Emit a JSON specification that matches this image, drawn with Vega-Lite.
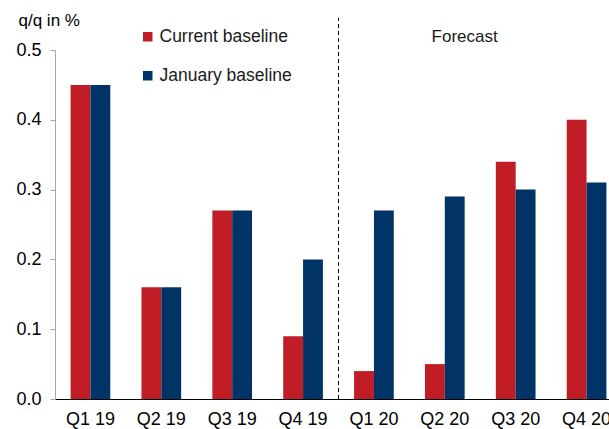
{
  "$schema": "https://vega.github.io/schema/vega-lite/v6.json",
  "autosize": {"type": "none"},
  "padding": {"left": 55, "top": 50, "right": 0, "bottom": 30},
  "width": 567,
  "height": 349,
  "background": "white",
  "config": {
    "font": "Liberation Sans",
    "view": {"stroke": null},
    "axis": {"titleFontWeight": "normal"}
  },
  "layer": [
    {
      "data": {
        "values": [
          {"q": "Q1 19", "series": "Current baseline", "v": 0.45},
          {"q": "Q1 19", "series": "January baseline", "v": 0.45},
          {"q": "Q2 19", "series": "Current baseline", "v": 0.16},
          {"q": "Q2 19", "series": "January baseline", "v": 0.16},
          {"q": "Q3 19", "series": "Current baseline", "v": 0.27},
          {"q": "Q3 19", "series": "January baseline", "v": 0.27},
          {"q": "Q4 19", "series": "Current baseline", "v": 0.09},
          {"q": "Q4 19", "series": "January baseline", "v": 0.20},
          {"q": "Q1 20", "series": "Current baseline", "v": 0.04},
          {"q": "Q1 20", "series": "January baseline", "v": 0.27},
          {"q": "Q2 20", "series": "Current baseline", "v": 0.05},
          {"q": "Q2 20", "series": "January baseline", "v": 0.29},
          {"q": "Q3 20", "series": "Current baseline", "v": 0.34},
          {"q": "Q3 20", "series": "January baseline", "v": 0.30},
          {"q": "Q4 20", "series": "Current baseline", "v": 0.40},
          {"q": "Q4 20", "series": "January baseline", "v": 0.31}
        ]
      },
      "mark": {"type": "bar"},
      "encoding": {
        "x": {
          "field": "q", "type": "nominal", "sort": null,
          "scale": {"paddingInner": 0.44, "paddingOuter": 0.22},
          "axis": {
            "title": null, "labelAngle": 0, "ticks": false,
            "domainColor": "#000000", "domainWidth": 1,
            "labelFontSize": 18, "labelColor": "#000000", "labelPadding": 11
          }
        },
        "xOffset": {"field": "series", "type": "nominal", "sort": ["Current baseline", "January baseline"]},
        "y": {
          "field": "v", "type": "quantitative",
          "scale": {"domain": [0, 0.5]},
          "axis": {
            "title": "q/q in %", "titleAngle": 0, "titleAlign": "left", "titleBaseline": "middle",
            "titleX": -37, "titleY": -30, "titleFontSize": 17, "titleFontWeight": "normal", "titleColor": "#000000",
            "values": [0, 0.1, 0.2, 0.3, 0.4, 0.5], "format": ".1f", "grid": false,
            "domainColor": "#a6a6a6", "tickColor": "#a6a6a6", "tickSize": 5,
            "labelFontSize": 18, "labelColor": "#000000", "labelPadding": 9
          }
        },
        "color": {
          "field": "series", "type": "nominal",
          "scale": {"domain": ["Current baseline", "January baseline"], "range": ["#C01D26", "#003366"]},
          "legend": {
            "title": null, "orient": "none", "legendX": 84, "legendY": -22,
            "symbolType": "square", "symbolSize": 90, "symbolStrokeWidth": 0,
            "labelFontSize": 17.5, "labelColor": "#1a1a1a", "rowPadding": 20, "labelOffset": 3
          }
        }
      }
    },
    {
      "data": {"values": [{"pos": 4, "y0": 0, "y1": 0.546}]},
      "mark": {"type": "rule", "strokeDash": [4, 3], "color": "#000000", "strokeWidth": 1},
      "encoding": {
        "x": {"field": "pos", "type": "quantitative", "scale": {"domain": [0, 8]}, "axis": null},
        "y": {"field": "y0", "type": "quantitative"},
        "y2": {"field": "y1"}
      }
    },
    {
      "data": {"values": [{"pos": 5.78, "yy": 0.519, "label": "Forecast"}]},
      "mark": {"type": "text", "fontSize": 17, "color": "#1a1a1a", "baseline": "middle", "align": "center"},
      "encoding": {
        "x": {"field": "pos", "type": "quantitative", "scale": {"domain": [0, 8]}, "axis": null},
        "y": {"field": "yy", "type": "quantitative"},
        "text": {"field": "label"}
      }
    }
  ],
  "resolve": {"scale": {"x": "independent"}}
}
